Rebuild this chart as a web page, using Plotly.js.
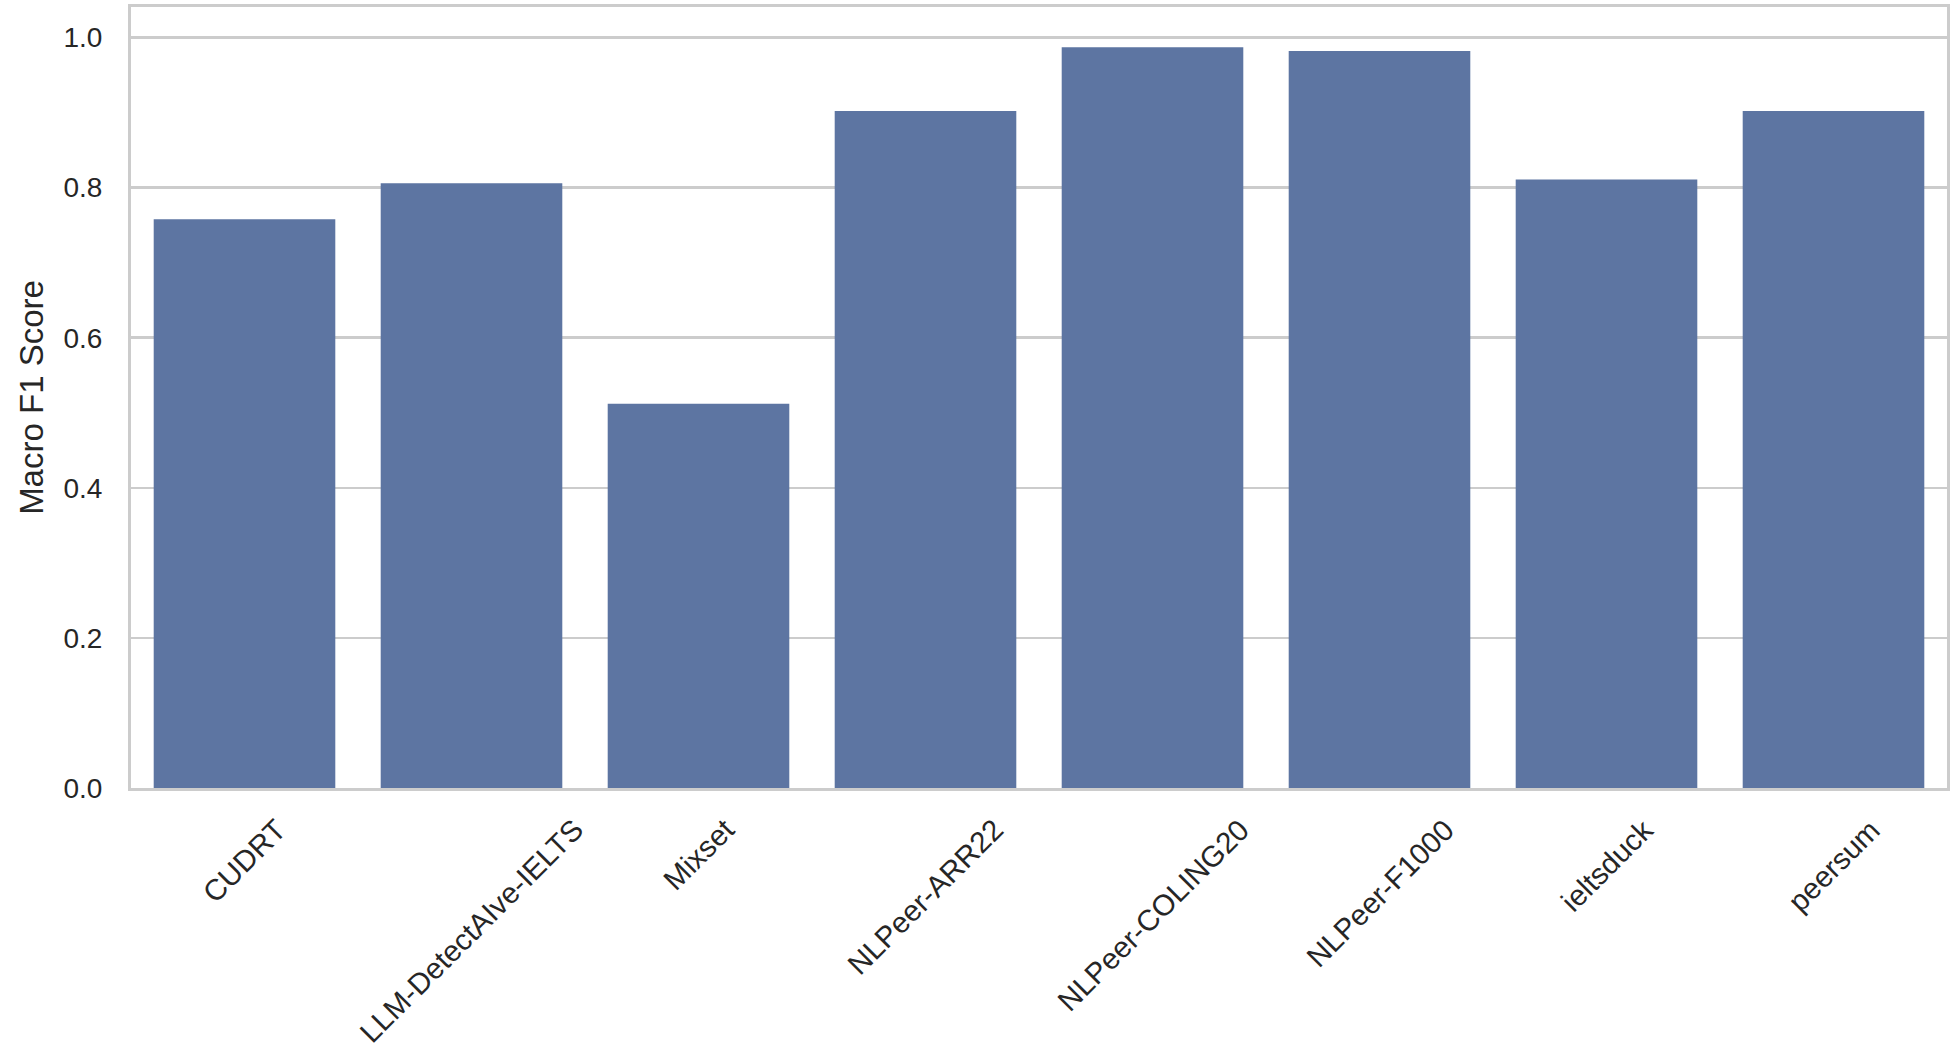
<!DOCTYPE html>
<html>
<head>
<meta charset="utf-8">
<script src="https://cdn.plot.ly/plotly-3.0.1.min.js"></script>
<style>
	html, body { margin: 0; padding: 0; background: #ffffff; }
	#plot-div { width: 1956px; height: 1052px; }
</style>
</head>
<body>
<div id="plot-div"></div>
<script>
// dataset names and macro f1 scores
const datasets = [
	"CUDRT",
	"LLM-DetectAIve-IELTS",
	"Mixset",
	"NLPeer-ARR22",
	"NLPeer-COLING20",
	"NLPeer-F1000",
	"ieltsduck",
	"peersum",
];
const macroF1 = [0.758, 0.806, 0.512, 0.902, 0.987, 0.982, 0.811, 0.902];
const yTicks = [0.0, 0.2, 0.4, 0.6, 0.8, 1.0];

const textColor = "#262626";
const gridColor = "#cccccc";
const fontFamily = "'Liberation Sans', Arial, Helvetica, sans-serif";

function renderPlot() {
	const trace = {
		type: "bar",
		x: datasets,
		y: macroF1,
		marker: { color: "#5d75a2", line: { width: 0 } },
		hoverinfo: "x+y",
	};

	// rotated labels centred under each bar (matplotlib style)
	const labelAnnotations = datasets.map((name) => ({
		x: name,
		xref: "x",
		y: 0,
		yref: "y",
		yshift: -22,
		text: name,
		textangle: -45,
		xanchor: "center",
		yanchor: "top",
		showarrow: false,
		font: { family: fontFamily, size: 29.5, color: textColor },
	}));

	const layout = {
		width: 1956,
		height: 1052,
		margin: { l: 131, r: 9, t: 7, b: 264 },
		paper_bgcolor: "#ffffff",
		plot_bgcolor: "#ffffff",
		font: { family: fontFamily, size: 28, color: textColor },
		bargap: 0.2,
		showlegend: false,
		xaxis: {
			type: "category",
			showticklabels: false,
			ticks: "",
			showgrid: false,
			showline: true,
			mirror: true,
			linecolor: gridColor,
			linewidth: 3,
		},
		yaxis: {
			range: [0, 1.0407],
			tickvals: yTicks,
			tickformat: ".1f",
			ticks: "",
			ticklabelstandoff: 20,
			showgrid: true,
			gridcolor: gridColor,
			gridwidth: 2.5,
			zeroline: false,
			showline: true,
			mirror: true,
			linecolor: gridColor,
			linewidth: 3,
			tickfont: { size: 28, color: textColor },
			title: {
				text: "Macro F1 Score",
				font: { size: 33, color: textColor },
				standoff: 10,
			},
		},
		annotations: labelAnnotations,
	};

	const config = { responsive: false, displayModeBar: false, staticPlot: true };

	Plotly.newPlot("plot-div", [trace], layout, config);
}

renderPlot();
</script>
</body>
</html>
